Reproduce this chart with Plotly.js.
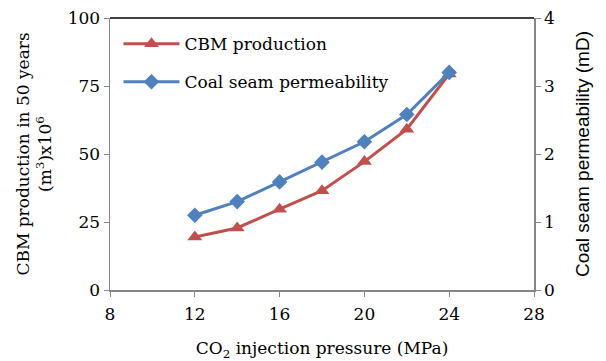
<!DOCTYPE html>
<html>
<head>
<meta charset="utf-8">
<script src="https://cdn.plot.ly/plotly-3.0.1.min.js"></script>
<style>html,body{margin:0;padding:0;background:#fff;}#chart{width:606px;height:361px;}</style>
</head>
<body>
<div id="chart"></div>
<script>
const pressure = [12, 14, 16, 18, 20, 22, 24];
const cbmProduction = [19.5, 22.8, 29.7, 36.5, 47.2, 59.1, 79.4];
const permeability = [1.10, 1.30, 1.59, 1.88, 2.18, 2.58, 3.20];
const xTicks = [8, 12, 16, 20, 24, 28];
const yTicks = [0, 25, 50, 75, 100];
const y2Ticks = [0, 1, 2, 3, 4];

const serif = 'DejaVu Serif';
const sans = 'Liberation Sans';
const axisGray = '#868686';
const fs = 17;

const traces = [
  {
    x: pressure, y: cbmProduction, name: 'CBM production', type: 'scatter', mode: 'lines+markers',
    line: {color: '#C0504D', width: 3}, marker: {symbol: 'triangle-up', size: 13, color: '#C0504D'},
    yaxis: 'y', legendgroup: 'a'
  },
  {
    x: pressure, y: permeability, name: 'Coal seam permeability', type: 'scatter', mode: 'lines+markers',
    line: {color: '#4F81BD', width: 3}, marker: {symbol: 'diamond', size: 12, color: '#4F81BD'},
    yaxis: 'y2', legendgroup: 'b'
  }
];

const layout = {
  width: 606, height: 361,
  margin: {l: 110, r: 72, t: 18, b: 71},
  paper_bgcolor: '#fff', plot_bgcolor: '#fff',
  font: {family: serif, size: fs, color: '#000'},
  showlegend: true,
  legend: {x: 0.02, y: 0.97, xanchor: 'left', yanchor: 'top', bgcolor: 'rgba(0,0,0,0)',
           font: {family: serif, size: fs, color: '#000'}, itemwidth: 56,
           traceorder: 'grouped', tracegroupgap: 13},
  xaxis: {
    range: [8, 28], tickvals: xTicks, ticktext: xTicks.map(String),
    showgrid: false, zeroline: false, showline: true, linecolor: axisGray, linewidth: 1.5,
    ticks: 'outside', ticklen: 5, tickcolor: axisGray, ticklabelstandoff: 3,
    tickfont: {family: serif, size: fs},
    title: {text: 'CO<sub>2</sub> injection pressure (MPa)', font: {family: serif, size: fs}, standoff: 20}
  },
  yaxis: {
    range: [0, 100], tickvals: yTicks, ticktext: yTicks.map(String),
    showgrid: false, zeroline: false, showline: true, linecolor: axisGray, linewidth: 1.5,
    ticks: 'outside', ticklen: 5, tickcolor: axisGray,
    tickfont: {family: serif, size: fs},
    title: {text: 'CBM production in 50 years<br>(m<sup>3</sup>)x10<sup>6</sup>', font: {family: serif, size: fs}, standoff: 11}
  },
  yaxis2: {
    range: [0, 4], tickvals: y2Ticks, ticktext: y2Ticks.map(String), overlaying: 'y', side: 'right',
    showgrid: false, zeroline: false, showline: true, linecolor: axisGray, linewidth: 1.5,
    ticks: 'outside', ticklen: 5, tickcolor: axisGray,
    tickfont: {family: serif, size: fs},
    title: {text: 'Coal seam permeability (mD)', font: {family: sans, size: 19}, standoff: 22}
  },
  shapes: [
    {type: 'line', xref: 'paper', yref: 'paper', x0: 0, x1: 1, y0: 1, y1: 1, line: {color: '#000', width: 1.5}}
  ]
};

Plotly.newPlot('chart', traces, layout, {displayModeBar: false, staticPlot: true});
</script>
</body>
</html>
